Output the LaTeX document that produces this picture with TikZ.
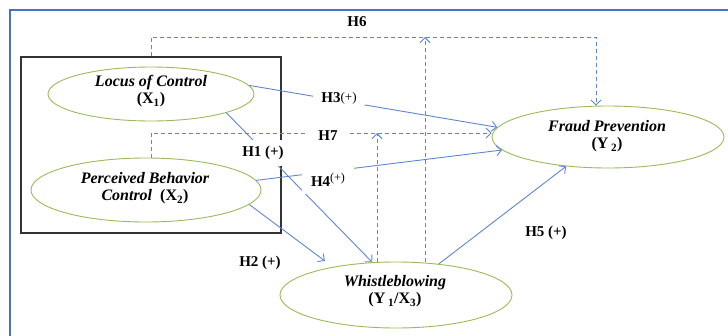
\documentclass[tikz,border=0pt]{standalone}
\usepackage{fontspec}
\setmainfont{Liberation Serif}
\usetikzlibrary{arrows.meta,shapes.geometric,calc}
\definecolor{lineblue}{RGB}{96,134,208}
\definecolor{frameblue}{RGB}{68,114,196}
\definecolor{ellgreen}{RGB}{155,187,89}
\begin{document}
\begin{tikzpicture}[x=1pt,y=-1pt,
  var/.style={ellipse,draw=ellgreen,line width=0.9pt,inner sep=0pt},
  vtext/.style={font=\fontsize{16}{17}\selectfont\bfseries\itshape,align=center,inner sep=0pt},
  hlab/.style={font=\fontsize{15}{17}\selectfont\bfseries,fill=white,inner xsep=3pt,inner ysep=1pt},
  conn/.style={draw=lineblue,line width=0.9pt,-{Straight Barb[length=5pt,width=10pt]}},
  dconn/.style={conn,dash pattern=on 4pt off 3pt}]
\useasboundingbox (0,0) rectangle (728,335);
\fill[white] (0,0) rectangle (728,335);
% outer frame
\draw[frameblue,line width=1.8pt] (10,345) -- (10,10) -- (740,10);
% box around X1, X2
\node[draw=black!80,line width=1.1pt,minimum width=260pt,minimum height=176pt,inner sep=0pt] (box) at (151,145) {};
% variables
\node[var,minimum width=206pt,minimum height=54pt] (loc) at (151,94) {};
\node[var,minimum width=230pt,minimum height=64pt] (pbc) at (146,190) {};
\node[var,minimum width=232pt,minimum height=62pt] (fraud) at (608,137) {};
\node[var,minimum width=232pt,minimum height=66pt] (wb) at (396,295) {};
\node[vtext] (loct) at (151,91.5) {Locus of Control\\\upshape(X\textsubscript{1})};
\node[vtext] (pbct) at (145,188.5) {Perceived Behavior\\Control\ \ {\upshape(X\textsubscript{2})}};
\node[vtext] (fraudt) at (607,136.5) {Fraud Prevention\\\upshape(Y\,\textsubscript{2})};
\node[vtext] (wbt) at (395,291.5) {Whistleblowing\\\upshape(Y\,\textsubscript{1}/X\textsubscript{3})};
% coordinates for dashed routes
\coordinate (h6r) at (596,37);
\coordinate (h7l) at (151,133);
\coordinate (v1) at (377,133);
\coordinate (v2) at (425,37);
% dashed connectors
\draw[dconn] (box.north) |- (h6r) -- (h6r |- fraud.north);
\draw[dconn] (box.north |- pbc.north) -- (h7l) -- (h7l -| fraud.west);
\draw[dconn] (v1 |- wb.north) -- (v1);
\draw[dconn] (v2 |- wb.north) -- (v2);
% solid connectors
\draw[conn] (loc.5) -- (fraud.175);
\draw[conn] (loc.-14) -- (wb.126);
\draw[conn] (pbc.5) -- (fraud.-173);
\draw[conn,shorten >=10pt] (pbc.-8) -- (wb.156);
\draw[conn] (wb.36) -- (fraud.-145);
% labels
\node[hlab] (h6) at (357,22) {H6};
\node[hlab,inner xsep=8pt] (h3) at (339,98) {H3\raisebox{1pt}{\mdseries\fontsize{13}{14}\selectfont(+)}};
\node[hlab,inner xsep=10pt,inner ysep=2pt] (h7) at (328,136) {H7};
\node[hlab,inner xsep=3pt,inner ysep=6pt] (h1) at (263,153) {H1 (+)};
\node[hlab,inner xsep=9pt,inner ysep=7pt] (h4) at (328,180) {H4\raisebox{5pt}{\mdseries\fontsize{12}{13}\selectfont(+)}};
\node[hlab] (h2) at (260,263) {H2 (+)};
\node[hlab] (h5) at (546,233) {H5 (+)};
\end{tikzpicture}
\end{document}
